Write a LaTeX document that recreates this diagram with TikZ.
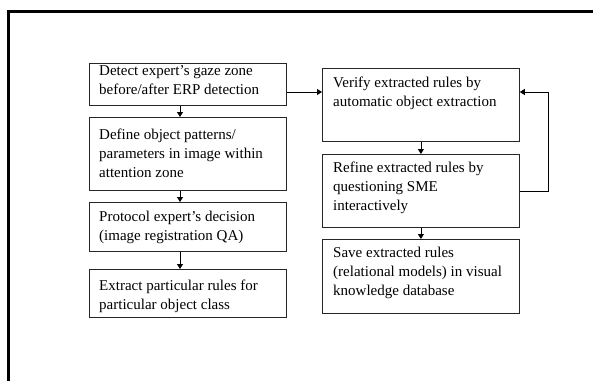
\documentclass[tikz,border=0pt]{standalone}
\usepackage{fontspec}
\setmainfont{Liberation Serif}
\usetikzlibrary{arrows.meta}
\tikzset{
  stepbox/.style={draw=black!85, line width=0.8pt, minimum width=197pt, inner sep=0pt, anchor=north west},
  % text blocks are placed by the baseline of their last line
  boxtext/.style={anchor=base west, align=left, inner sep=0pt, font=\fontsize{15pt}{19pt}\selectfont},
  arr/.style={draw=black, line width=0.8pt, -{Triangle[length=5pt,width=6pt]}},
  frame/.style={line width=3pt, black}
}
\begin{document}
\begin{tikzpicture}[x=1pt, y=-1pt]
  \useasboundingbox (0,0) rectangle (593,381);
  % page frame
  \draw[frame] (8.3,381) -- (8.3,11.3) -- (593,11.3);

  % left column
  \node[stepbox, minimum height=42pt] (b1) at (89,63) {};
  \node[stepbox, minimum height=73pt] (b2) at (89,117) {};
  \node[stepbox, minimum height=49pt] (b3) at (89,202) {};
  \node[stepbox, minimum height=48pt] (b4) at (89,269) {};
  % right column
  \node[stepbox, minimum height=73pt] (b5) at (322,68) {};
  \node[stepbox, minimum height=73pt] (b6) at (322,154) {};
  \node[stepbox, minimum height=74pt] (b7) at (322,239) {};

  \node[boxtext] (t1) at (99,94) {Detect expert’s gaze zone\\before/after ERP detection};
  \node[boxtext] (t2) at (99,177) {Define object patterns/\\parameters in image within\\attention zone};
  \node[boxtext] (t3) at (99,240) {Protocol expert’s decision\\(image registration QA)};
  \node[boxtext] (t4) at (99,309) {Extract particular rules for\\particular object class};
  \node[boxtext] (t5) at (333,106) {Verify extracted rules by\\automatic object extraction};
  \node[boxtext] (t6) at (333,210) {Refine extracted rules by\\questioning SME\\interactively};
  \node[boxtext] (t7) at (333,295) {Save extracted rules\\(relational models) in visual\\knowledge database};

  % connectors
  \coordinate (lc) at (180,0);
  \coordinate (ya) at (0,92);
  \coordinate (loop) at (548,92);
  \draw[arr] (b1.south -| lc) -- (b2.north -| lc);
  \draw[arr] (b2.south -| lc) -- (b3.north -| lc);
  \draw[arr] (b3.south -| lc) -- (b4.north -| lc);
  \draw[arr] (b1.east |- ya) -- (b5.west |- ya);
  \draw[arr] (b5.south) -- (b6.north);
  \draw[arr] (b6.south) -- (b7.north);
  \draw[arr] (b6.east) -| (loop) -- (b5.east |- loop);
\end{tikzpicture}
\end{document}
